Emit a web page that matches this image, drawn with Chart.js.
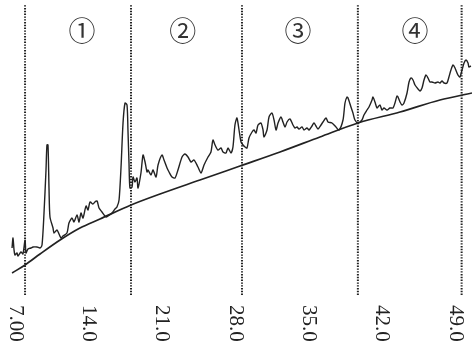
<!DOCTYPE html>
<html>
<head>
<meta charset="utf-8">
<script src="https://cdn.jsdelivr.net/npm/chart.js@4/dist/chart.umd.min.js"></script>
<style>
  html, body { margin: 0; padding: 0; background: #ffffff; }
  canvas { display: block; }
</style>
</head>
<body>
<canvas id="chart" width="472" height="349"></canvas>
<script>
// Retention time (min) and detector signal of the chromatogram trace
const traceTime = [6.70, 6.79, 6.89, 6.98, 7.17, 7.27, 7.55, 7.74, 7.94, 8.03, 8.22, 8.51, 8.70, 9.08, 9.37, 9.56, 9.75, 9.94, 10.03, 10.13,
  10.23, 10.32, 10.61, 10.70, 10.99, 11.37, 11.56, 11.94, 12.13, 12.42, 12.61, 12.90, 13.09, 13.28, 13.47, 13.76, 13.95, 14.14, 14.42, 14.61,
  14.81, 15.00, 15.28, 15.66, 15.86, 16.24, 16.52, 16.71, 16.91, 17.10, 17.29, 17.48, 17.67, 17.76, 17.86, 17.95, 18.15, 18.24, 18.43, 18.62,
  18.72, 19.00, 19.20, 19.39, 19.58, 19.67, 19.96, 20.15, 20.44, 20.63, 21.01, 21.20, 21.49, 21.68, 21.96, 22.25, 22.53, 22.92, 23.20, 23.49,
  23.78, 24.06, 24.44, 24.73, 25.02, 25.40, 25.68, 25.87, 26.07, 26.35, 26.64, 26.83, 27.11, 27.31, 27.59, 27.78, 27.97, 28.16, 28.36, 28.55,
  28.74, 28.93, 29.12, 29.31, 29.60, 29.79, 29.98, 30.17, 30.45, 30.65, 30.74, 31.03, 31.22, 31.50, 31.70, 31.89, 32.08, 32.36, 32.55, 32.75,
  32.94, 33.22, 33.51, 33.70, 33.89, 34.08, 34.37, 34.56, 34.84, 35.04, 35.32, 35.51, 35.70, 35.89, 36.18, 36.37, 36.66, 36.85, 37.23, 37.61,
  37.90, 38.28, 38.47, 38.66, 38.76, 39.04, 39.23, 39.42, 39.71, 40.09, 40.28, 40.57, 40.76, 41.05, 41.14, 41.33, 41.52, 41.62, 41.81, 42.00,
  42.19, 42.48, 42.76, 43.05, 43.24, 43.43, 43.53, 43.72, 43.91, 44.10, 44.39, 44.58, 44.77, 44.96, 45.15, 45.44, 45.63, 45.82, 46.01, 46.20,
  46.39, 46.58, 46.77, 47.06, 47.34, 47.53, 47.73, 47.92, 48.20, 48.39, 48.58, 48.78, 48.97, 49.25, 49.44, 49.64, 49.83, 50.02, 50.21, 50.30,
  50.49];
const traceSignal = [47, 57, 45, 40, 42, 39, 43, 41, 55, 42, 46, 47, 48, 48, 47, 50, 82, 125, 150, 150,
  105, 78, 67, 62, 65, 57, 59, 62, 72, 77, 73, 80, 73, 82, 77, 89, 85, 93, 91, 93,
  94, 87, 83, 78, 79, 82, 86, 88, 95, 128, 172, 192, 190, 165, 132, 107, 108, 118, 113, 117,
  107, 122, 140, 133, 123, 125, 120, 125, 118, 130, 140, 135, 127, 123, 118, 117, 125, 138, 141, 138,
  133, 135, 128, 122, 130, 138, 143, 155, 150, 145, 147, 143, 142, 147, 142, 148, 170, 177, 165, 153,
  150, 148, 147, 157, 163, 165, 162, 170, 172, 165, 158, 165, 178, 182, 175, 165, 172, 178, 173, 168,
  173, 176, 170, 167, 168, 166, 168, 165, 167, 165, 169, 172, 169, 166, 170, 173, 177, 173, 172, 168,
  165, 175, 192, 198, 197, 188, 182, 175, 172, 175, 180, 185, 188, 195, 198, 193, 187, 188, 190, 185,
  187, 185, 187, 187, 192, 199, 198, 193, 190, 192, 202, 213, 217, 215, 210, 206, 204, 207, 215, 220,
  217, 213, 213, 212, 213, 212, 214, 212, 212, 218, 225, 230, 227, 220, 218, 225, 232, 235, 232, 228,
  229];

// Drawn baseline under the trace
const baseTime   = [6.70, 7.94, 9.37, 11.28, 13.18, 15.09, 18.05, 20.82, 24.63, 28.45, 32.27, 36.08, 39.71, 43.72, 47.53, 50.59];
const baseSignal = [22, 30, 41, 55, 67, 76, 90, 101, 115, 129, 143, 158, 172, 183, 195, 202];

// Fraction boundaries (dotted lines) and fraction labels
const fractionCuts   = [7.94, 18.05, 28.64, 39.7, 49.6];
const fractionNames  = ['\u2460', '\u2461', '\u2462', '\u2463'];
const fractionNameAt = [13.38, 23.0, 33.98, 45.15];

// Time axis ticks
const tickValues = [7, 14, 21, 28, 35, 42, 49];
const tickLabels = ['7.00', '14.0', '21.0', '28.0', '35.0', '42.0', '49.0'];

const X_MIN = 5.55, X_MAX = 50.59, Y_MIN = 0, Y_MAX = 290;
const INK = '#222222';

const traceData = traceTime.map((t, i) => ({ x: t, y: traceSignal[i] }));
const baseData = baseTime.map((t, i) => ({ x: t, y: baseSignal[i] }));

const cutSets = fractionCuts.map(c => ({
  data: [{ x: c, y: Y_MIN }, { x: c, y: Y_MAX }],
  borderColor: '#222222',
  borderWidth: 2,
  borderDash: [1.4, 1.4],
  pointRadius: 0,
  tension: 0
}));

// Circled fraction numbers above each region
const fractionLabelPlugin = {
  id: 'fractionLabels',
  afterDatasetsDraw(chart) {
    const ctx = chart.ctx;
    const xs = chart.scales.x;
    ctx.save();
    ctx.fillStyle = '#333333';
    ctx.font = '27px "Noto Sans CJK JP", "DejaVu Sans", sans-serif';
    ctx.textAlign = 'center';
    ctx.textBaseline = 'middle';
    fractionNames.forEach((name, i) => {
      ctx.fillText(name, xs.getPixelForValue(fractionNameAt[i]), 31);
    });
    ctx.restore();
  }
};

// Time tick labels, turned to read top-to-bottom
const timeTickPlugin = {
  id: 'timeTicks',
  afterDraw(chart) {
    const ctx = chart.ctx;
    const xs = chart.scales.x;
    const top = chart.chartArea.bottom + 10;
    ctx.save();
    ctx.fillStyle = '#222222';
    ctx.font = '21px "Liberation Serif", "Times New Roman", serif';
    ctx.textAlign = 'left';
    ctx.textBaseline = 'middle';
    tickValues.forEach((v, i) => {
      ctx.save();
      ctx.translate(xs.getPixelForValue(v), top);
      ctx.rotate(Math.PI / 2);
      ctx.fillText(tickLabels[i], 0, 0);
      ctx.restore();
    });
    ctx.restore();
  }
};

new Chart(document.getElementById('chart'), {
  type: 'line',
  data: {
    datasets: [
      {
        data: traceData,
        borderColor: INK,
        borderWidth: 1.4,
        pointRadius: 0,
        tension: 0.25
      },
      {
        data: baseData,
        borderColor: INK,
        borderWidth: 1.7,
        pointRadius: 0,
        cubicInterpolationMode: 'monotone'
      },
      ...cutSets
    ]
  },
  options: {
    responsive: false,
    devicePixelRatio: 1,
    animation: false,
    layout: { padding: { top: 5, bottom: 54, left: 0, right: 0 } },
    plugins: {
      legend: { display: false },
      tooltip: { enabled: false },
      title: { display: false }
    },
    scales: {
      x: { type: 'linear', min: X_MIN, max: X_MAX, display: false },
      y: { type: 'linear', min: Y_MIN, max: Y_MAX, display: false }
    }
  },
  plugins: [fractionLabelPlugin, timeTickPlugin]
});
</script>
</body>
</html>
